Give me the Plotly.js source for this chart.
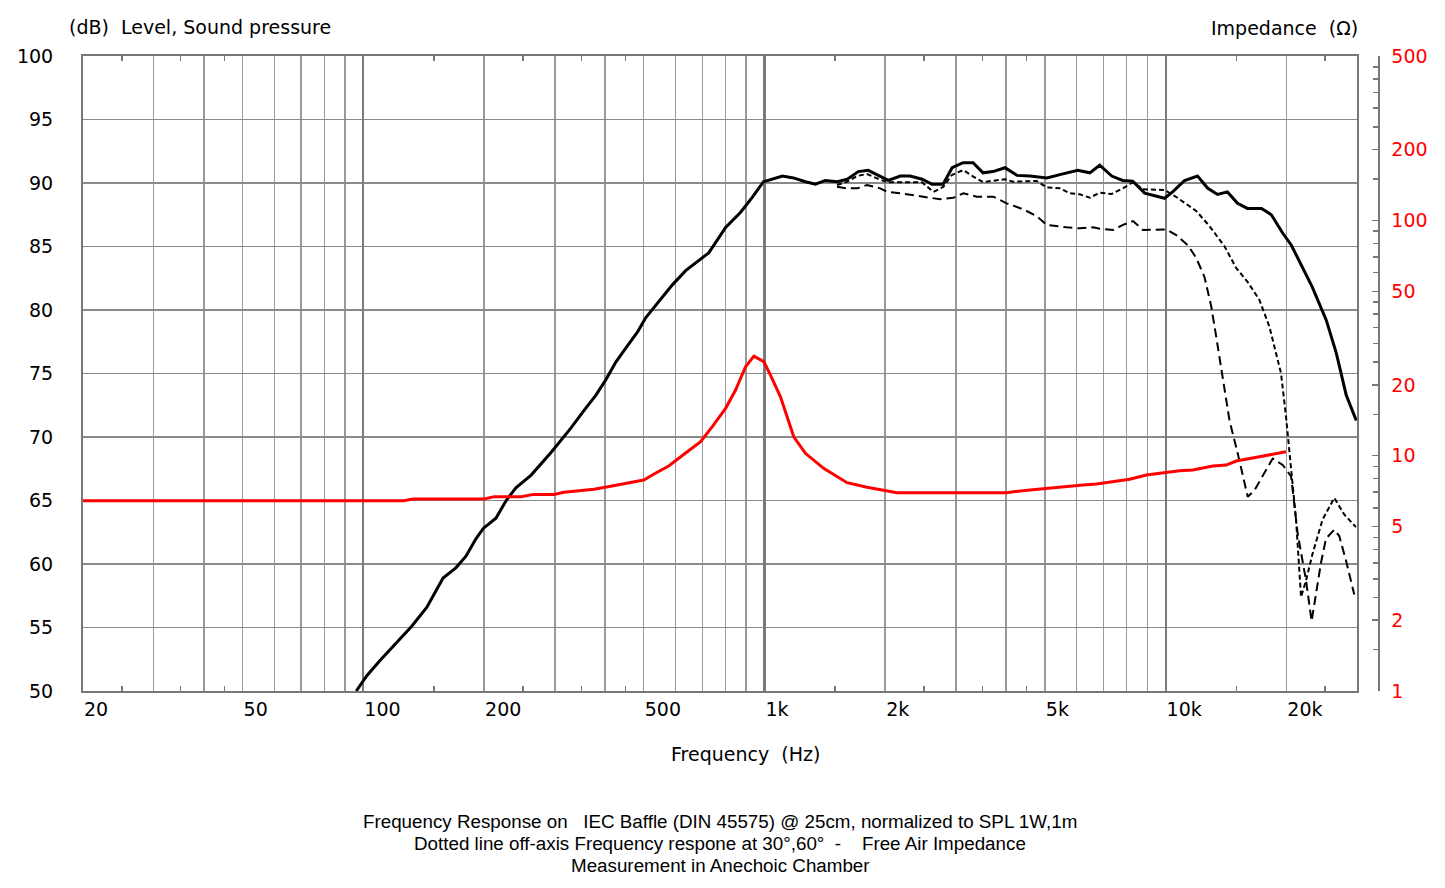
<!DOCTYPE html>
<html>
<head>
<meta charset="utf-8">
<script src="https://cdn.plot.ly/plotly-3.0.1.min.js"></script>
<style>html,body{margin:0;padding:0;background:#fff;}#chart{width:1445px;height:888px;}</style>
</head>
<body>
<div id="chart"></div>
<script>
// On-axis SPL (Hz, dB)
const onAxisFreq = [96,102,110,119,132,144,158,170,180,191,199,214,227,240,262,294,329,355,380,402,426,451,483,506,551,590,636,681,726,800,872,934,994,1109,1181,1265,1340,1418,1519,1609,1713,1814,1944,2035,2180,2308,2472,2617,2788,2936,3126,3311,3506,3712,3977,4260,4589,5058,5512,6040,6471,6852,7340,7816,8279,8868,9943,10410,11150,12010,12720,13470,14260,15110,15990,17340,18350,19540,20580,21910,23210,25150,26640,28200,29870];
const onAxisDb = [50.0,51.2,52.4,53.6,55.1,56.6,58.9,59.7,60.6,62.0,62.8,63.6,65.0,66.0,67.0,68.8,70.7,72.1,73.3,74.5,75.9,77.0,78.3,79.4,80.8,82.0,83.1,83.8,84.5,86.5,87.7,88.9,90.1,90.55,90.4,90.1,89.9,90.2,90.1,90.3,90.9,91.0,90.5,90.2,90.55,90.55,90.3,89.9,89.9,91.2,91.6,91.6,90.8,90.9,91.2,90.6,90.55,90.4,90.7,91.0,90.8,91.4,90.55,90.2,90.15,89.2,88.8,89.3,90.2,90.55,89.6,89.1,89.3,88.4,88.0,88.0,87.5,86.1,85.1,83.4,81.8,79.2,76.6,73.3,71.3];

// Off-axis 30 deg
const off30Freq = [1516,1606,1701,1801,1907,2019,2180,2468,2637,2793,2931,3131,3316,3512,3718,3977,4170,4768,5049,5449,5769,6109,6471,6852,7327,7830,8293,8780,9943,10630,11920,12870,14030,15000,16020,17130,18140,19400,19960,20550,21140,21760,22390,23240,24620,26330,27880,29820];
const off30Db = [89.84,90.1,90.55,90.71,90.37,90.06,90.06,90.06,89.3,89.7,90.63,91.02,90.5,90.06,90.18,90.29,90.1,90.16,89.66,89.58,89.19,89.11,88.84,89.24,89.13,89.58,90.06,89.5,89.45,88.9,87.8,86.6,85.0,83.3,82.2,80.8,78.7,75.0,71.6,67.4,63.5,57.4,58.7,60.8,63.5,65.2,63.9,62.9];

// Off-axis 60 deg
const off60Freq = [1516,1606,1701,1801,1944,2019,2180,2398,2588,2741,2958,3131,3381,3718,4015,4416,4768,5049,5662,6109,6596,6852,7396,7830,8293,8780,10040,10630,11360,11920,12500,12990,13370,13890,14430,15130,16020,16650,17460,18490,19580,20550,21340,22390,23120,23710,24400,25110,26330,27100,28150,29530];
const off60Db = [89.71,89.58,89.58,89.84,89.58,89.31,89.19,88.98,88.8,88.72,88.84,89.19,88.92,88.92,88.4,87.93,87.4,86.7,86.51,86.43,86.51,86.4,86.3,86.7,87.0,86.3,86.35,85.9,85.1,84.1,82.6,80.3,77.9,74.7,71.3,68.7,65.3,65.8,66.9,68.3,67.8,66.9,62.4,58.7,55.5,57.7,60.1,62.0,62.7,62.2,60.3,57.6];

// Free air impedance (Hz, ohm)
const impFreq = [20,126,133,200,212,247,266,299,316,349,376,407,446,500,536,577,636,693,741,800,847,897,941,996,1035,1096,1183,1265,1404,1606,1801,2138,4015,4170,4589,5049,5553,6228,6724,7396,8136,8954,9847,10830,11690,13110,14160,15000,17130,19960];
const impOhm = [6.44,6.44,6.55,6.55,6.70,6.70,6.85,6.85,6.99,7.08,7.20,7.38,7.58,7.88,8.44,9.04,10.27,11.47,13.29,15.9,19.02,23.9,26.5,25.1,22.0,17.8,12.04,10.24,8.84,7.68,7.34,6.96,6.96,7.03,7.15,7.27,7.38,7.51,7.58,7.75,7.94,8.28,8.47,8.64,8.70,9.04,9.13,9.49,9.90,10.40];

// Axes
const xGridVals = [20,30,40,50,60,70,80,90,100,200,300,400,500,600,700,800,900,1000,2000,3000,4000,5000,6000,7000,8000,9000,10000,20000];
const xLabelMap = {20:'20',50:'50',100:'100',200:'200',500:'500',1000:'1k',2000:'2k',5000:'5k',10000:'10k',20000:'20k'};
const xMinorVals = [25,35,45,150,250,350,450,1500,2500,3500,4500,15000,25000];
const xDecadeVals = [100,1000,10000];
const yTickVals = [50,55,60,65,70,75,80,85,90,95,100];
const zTickVals = [1,2,5,10,20,50,100,200,500];
const zMinorVals = [1.5,2.5,3,3.5,4,4.5,6,7,8,9,15,25,30,35,40,45,60,70,80,90,150,250,300,350,400,450];
const footerLines = [
  'Frequency Response on   IEC Baffle (DIN 45575) @ 25cm, normalized to SPL 1W,1m',
  'Dotted line off-axis Frequency respone at 30°,60°  -    Free Air Impedance',
  'Measurement in Anechoic Chamber'
];

const FONT = 'DejaVu Sans, Verdana, sans-serif';
const GRID = '#9a9a9a';
const FRAME = '#777777';
const FS = 19;

const traces = [
  {x: impFreq, y: impOhm, xaxis:'x', yaxis:'y2', mode:'lines', line:{color:'#ff0000', width:3}, hoverinfo:'skip'},
  {x: off60Freq, y: off60Db, mode:'lines', line:{color:'#000', width:2, dash:'9px,5px'}, hoverinfo:'skip'},
  {x: off30Freq, y: off30Db, mode:'lines', line:{color:'#000', width:2, dash:'5px,3px'}, hoverinfo:'skip'},
  {x: onAxisFreq, y: onAxisDb, mode:'lines', line:{color:'#000', width:3}, hoverinfo:'skip'},
  {x: [100,1000], y: [null,null], xaxis:'x2', yaxis:'y', mode:'lines', hoverinfo:'skip', showlegend:false}
];

const xr = [Math.log10(20), Math.log10(30000)];
const dom = (1357-83)/(1378-83);
const px = v => (v-83)/1295;
const py = v => (691-v)/635;

const annotations = [
  {text:'(dB)  Level, Sound pressure', xref:'paper', yref:'paper', x:px(67), y:py(27), xanchor:'left', yanchor:'middle', showarrow:false, font:{family:FONT, size:FS, color:'#000'}},
  {text:'Impedance  (Ω)', xref:'paper', yref:'paper', x:px(1360), y:py(28), xanchor:'right', yanchor:'middle', showarrow:false, font:{family:FONT, size:FS, color:'#000'}},
  {text:'Frequency  (Hz)', xref:'paper', yref:'paper', x:px(745), y:py(754), xanchor:'center', yanchor:'middle', showarrow:false, font:{family:FONT, size:FS, color:'#000'}}
];
const footerY = [822, 843.5, 865];
footerLines.forEach((t, i) => annotations.push({
  text:t, xref:'paper', yref:'paper', x:px(720), y:py(footerY[i]), xanchor:'center', yanchor:'middle', showarrow:false,
  font:{family:'Liberation Sans, Arial, sans-serif', size:18.8, color:'#000'}
}));

const layout = {
  width:1445, height:888,
  margin:{l:83, r:67, t:56, b:197},
  paper_bgcolor:'#fff', plot_bgcolor:'#fff',
  showlegend:false,
  font:{family:FONT, size:FS, color:'#000'},
  xaxis:{
    type:'log', range:xr, domain:[0,dom],
    tickvals:xGridVals, ticktext:xGridVals.map(v => xLabelMap[v] || ''),
    ticks:'', showgrid:true, gridcolor:GRID, gridwidth:1.5,
    showline:true, linecolor:FRAME, linewidth:2, mirror:'ticks',
    ticklabelposition:'outside right',
    tickfont:{family:FONT, size:FS, color:'#000'},
    minor:{tickvals:xMinorVals, ticks:'inside', ticklen:5, tickcolor:FRAME, tickwidth:1.5, showgrid:false},
    zeroline:false, fixedrange:true
  },
  xaxis2:{
    type:'log', range:xr, domain:[0,dom], overlaying:'x', anchor:'y',
    tickvals:xDecadeVals, showticklabels:false, ticks:'',
    showgrid:true, gridcolor:'#7a7a7a', gridwidth:2.2, showline:false, zeroline:false
  },
  yaxis:{
    range:[50,100], tickvals:yTickVals, ticks:'',
    showgrid:true, gridcolor:'#8a8a8a', gridwidth:1.5,
    showline:true, linecolor:FRAME, linewidth:2, mirror:true,
    ticklabelstandoff:24,
    tickfont:{family:FONT, size:FS, color:'#000'},
    zeroline:false, fixedrange:true
  },
  yaxis2:{
    type:'log', range:[0, Math.log10(500)], overlaying:'y', side:'right',
    anchor:'free', position:1,
    tickvals:zTickVals, ticktext:zTickVals.map(String),
    ticks:'inside', ticklen:6, tickcolor:FRAME, tickwidth:1.5,
    minor:{tickvals:zMinorVals, ticks:'inside', ticklen:5, tickcolor:FRAME, tickwidth:1.5, showgrid:false},
    showgrid:false, showline:true, linecolor:FRAME, linewidth:1.5,
    ticklabelstandoff:8,
    tickfont:{family:FONT, size:FS, color:'#ff0000'},
    zeroline:false, fixedrange:true
  },
  annotations:annotations
};

Plotly.newPlot('chart', traces, layout, {displayModeBar:false, staticPlot:true});
</script>
</body>
</html>
